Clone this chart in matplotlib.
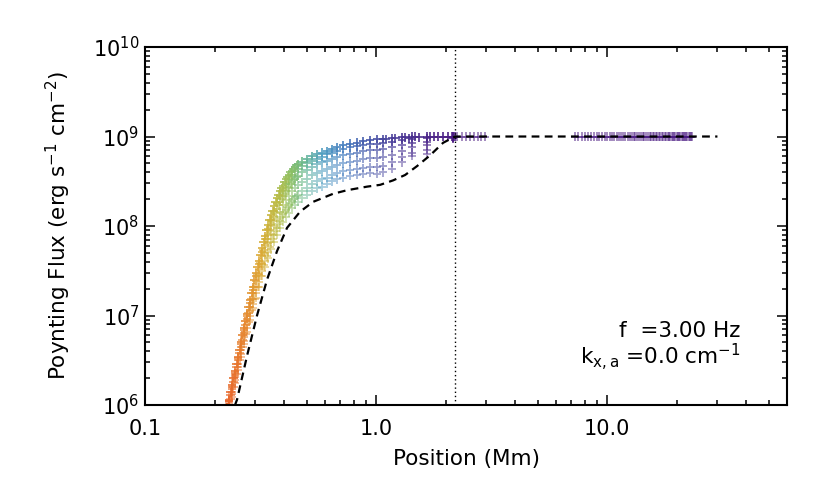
import numpy as np
import matplotlib
matplotlib.use('Agg')
import matplotlib.pyplot as plt
from matplotlib.colors import LinearSegmentedColormap, Normalize
from matplotlib.ticker import LogLocator, FuncFormatter, NullFormatter

# column positions (Mm) of the plus-marker stacks
position = [0.224, 0.231, 0.238, 0.245, 0.253, 0.260, 0.268, 0.276, 0.285, 0.293,
            0.302, 0.312, 0.321, 0.331, 0.341, 0.351, 0.362, 0.373, 0.384, 0.396,
            0.408, 0.420, 0.433, 0.446, 0.460, 0.478, 0.503, 0.528, 0.555, 0.584,
            0.614, 0.645, 0.678, 0.720, 0.772, 0.828, 0.878, 0.942, 1.010, 1.072,
            1.173, 1.296, 1.432, 1.663, 2.154]

# log10 of Poynting flux, one list per level (top -> bottom)
logF_0 = [5.90, 6.06, 6.22, 6.38, 6.54, 6.70, 6.86, 7.02, 7.17, 7.32,
          7.47, 7.61, 7.75, 7.89, 8.01, 8.12, 8.22, 8.31, 8.39, 8.45,
          8.52, 8.57, 8.62, 8.66, 8.69, 8.72, 8.75, 8.78, 8.80, 8.82,
          8.84, 8.86, 8.88, 8.90, 8.92, 8.93, 8.95, 8.96, 8.97, 8.97,
          8.98, 8.99, 9.00, 9.00, 9.00]
logF_1 = [5.90, 6.05, 6.20, 6.36, 6.52, 6.68, 6.84, 7.00, 7.14, 7.29,
          7.44, 7.58, 7.71, 7.85, 7.97, 8.07, 8.17, 8.26, 8.34, 8.40,
          8.47, 8.52, 8.57, 8.61, 8.64, 8.67, 8.70, 8.73, 8.75, 8.77,
          8.80, 8.82, 8.84, 8.86, 8.88, 8.89, 8.91, 8.92, 8.92, 8.93,
          8.94, 8.96, 8.97, 8.98, 9.00]
logF_2 = [5.89, 6.04, 6.18, 6.34, 6.50, 6.65, 6.81, 6.96, 7.10, 7.25,
          7.39, 7.52, 7.66, 7.79, 7.90, 8.01, 8.10, 8.19, 8.27, 8.33,
          8.39, 8.44, 8.49, 8.53, 8.56, 8.60, 8.63, 8.66, 8.69, 8.71,
          8.73, 8.75, 8.77, 8.79, 8.81, 8.82, 8.84, 8.85, 8.85, 8.86,
          8.88, 8.91, 8.93, 8.94, 8.99]
logF_3 = [5.88, 6.03, 6.15, 6.31, 6.46, 6.61, 6.76, 6.91, 7.05, 7.19,
          7.32, 7.45, 7.58, 7.70, 7.81, 7.91, 8.00, 8.08, 8.16, 8.23,
          8.29, 8.34, 8.39, 8.43, 8.46, 8.49, 8.53, 8.57, 8.59, 8.61,
          8.64, 8.66, 8.68, 8.70, 8.72, 8.73, 8.75, 8.76, 8.76, 8.77,
          8.79, 8.84, 8.88, 8.90, 8.99]
logF_4 = [5.88, 6.01, 6.12, 6.28, 6.42, 6.57, 6.72, 6.86, 6.99, 7.13,
          7.25, 7.38, 7.50, 7.61, 7.71, 7.82, 7.90, 7.98, 8.06, 8.13,
          8.18, 8.23, 8.28, 8.32, 8.35, 8.39, 8.43, 8.47, 8.50, 8.52,
          8.54, 8.57, 8.59, 8.61, 8.63, 8.64, 8.65, 8.66, 8.66, 8.67,
          8.71, 8.77, 8.82, 8.85, 8.98]
logF_5 = [5.87, 6.00, 6.09, 6.25, 6.39, 6.54, 6.68, 6.82, 6.95, 7.08,
          7.20, 7.32, 7.44, 7.54, 7.64, 7.74, 7.82, 7.90, 7.98, 8.05,
          8.10, 8.15, 8.20, 8.24, 8.27, 8.31, 8.35, 8.39, 8.42, 8.44,
          8.47, 8.50, 8.52, 8.54, 8.56, 8.57, 8.58, 8.59, 8.58, 8.60,
          8.64, 8.71, 8.78, 8.81, 8.98]

# extra columns on the steep part, where the points are denser
position_mid = [0.2275, 0.2345, 0.2415, 0.249, 0.2565, 0.264, 0.272, 0.2805,
                0.289, 0.2975, 0.307, 0.3165, 0.326, 0.336, 0.346, 0.3565,
                0.3675, 0.3785, 0.390, 0.402, 0.414, 0.4265, 0.4395, 0.453]
logF_mid_0 = [5.98, 6.14, 6.30, 6.46, 6.62, 6.78, 6.94, 7.10, 7.25, 7.40, 7.54, 7.68,
              7.82, 7.95, 8.07, 8.17, 8.27, 8.35, 8.42, 8.49, 8.55, 8.60, 8.64, 8.68]
logF_mid_2 = [5.97, 6.11, 6.26, 6.42, 6.58, 6.73, 6.89, 7.03, 7.18, 7.32, 7.46, 7.59,
              7.73, 7.85, 7.96, 8.06, 8.15, 8.23, 8.30, 8.36, 8.42, 8.47, 8.51, 8.55]
logF_mid_4 = [5.95, 6.07, 6.20, 6.35, 6.50, 6.65, 6.79, 6.93, 7.06, 7.19, 7.32, 7.44,
              7.56, 7.66, 7.77, 7.86, 7.94, 8.02, 8.10, 8.16, 8.21, 8.26, 8.30, 8.34]

# dense top ridge near the upper end of the slope
ridge_pos = [1.10, 1.21, 1.34, 1.39, 1.48, 1.54, 1.71, 1.78, 1.86, 1.95, 2.04, 2.12, 2.19]
ridge_logF = [8.97, 8.98, 8.99, 8.98, 9.00, 8.99, 9.00, 9.00, 9.00, 9.00, 9.00, 9.00, 9.00]

# points on the flat part beyond the dotted line
flat_pos = [2.25, 2.35, 2.45, 2.55, 2.65, 2.75, 2.85, 2.95,
            7.25, 7.5, 7.75, 8.0, 8.25, 8.5, 8.75, 9.0, 9.25, 9.5, 9.75,
            10.0, 10.25, 10.5, 10.75, 11.0, 11.25, 11.5, 11.75, 12.0, 12.25,
            12.5, 12.75, 13.0, 13.25, 13.5, 13.75, 14.0, 14.25, 14.5, 14.75,
            15.0, 15.25, 15.5, 15.75, 16.0, 16.25, 16.5, 16.75, 17.0, 17.25,
            17.5, 17.75, 18.0, 18.25, 18.5, 18.75, 19.0, 19.25, 19.5, 19.75,
            20.0, 20.25, 20.5, 20.75, 21.0, 21.25, 21.5, 21.75, 22.0, 22.25,
            22.5, 22.75, 23.0, 23.25]
flat_logF = 9.0

# dashed reference curve
dash_pos = [0.240, 0.2452, 0.2502, 0.2764, 0.3053, 0.3373, 0.3727, 0.4118, 0.4688,
            0.5338, 0.6515, 0.7490, 0.9142, 1.041, 1.185, 1.335, 1.505, 1.713,
            1.950, 2.198, 30.0]
dash_logF = [5.85, 6.00, 6.06, 6.55, 7.00, 7.40, 7.72, 7.98, 8.16,
             8.27, 8.36, 8.40, 8.44, 8.46, 8.51, 8.57, 8.67, 8.79,
             8.93, 9.00, 9.00]

vline_pos = 2.2

plt.rcParams['font.family'] = 'DejaVu Sans'
plt.rcParams['mathtext.fontset'] = 'dejavusans'

fig = plt.figure(figsize=(8.3, 4.98), dpi=100)
ax = fig.add_axes([0.1747, 0.1867, 0.7735, 0.7189])

cmap = LinearSegmentedColormap.from_list('rb', [
    (0.00, '#e8602a'), (0.08, '#e6862e'), (0.15, '#dcaa36'), (0.22, '#bcbc44'),
    (0.28, '#8fc063'), (0.34, '#62b68f'), (0.42, '#4d9dc0'), (0.52, '#4279bf'),
    (0.62, '#4456a8'), (0.75, '#4a3996'), (0.88, '#4b2689'), (1.00, '#4a1a82')])
norm = Normalize(np.log10(0.224), np.log10(2.2), clip=True)


def col(xs):
    return cmap(norm(np.log10(np.asarray(xs))))


def plus(xs, logf, alpha):
    ax.scatter(xs, 10 ** np.asarray(logf, dtype=float), marker='+', s=38,
               linewidths=1.3, c=col(xs), alpha=alpha, zorder=2)


for lev, a in [(logF_5, 0.5), (logF_4, 0.55), (logF_3, 0.6), (logF_2, 0.7),
               (logF_1, 0.8), (logF_0, 0.9)]:
    plus(position, lev, a)
plus(position_mid, logF_mid_4, 0.55)
plus(position_mid, logF_mid_2, 0.7)
plus(position_mid, logF_mid_0, 0.9)
plus(ridge_pos, ridge_logF, 0.9)
plus(flat_pos, np.full(len(flat_pos), flat_logF), 0.55)

ax.plot(dash_pos, 10 ** np.array(dash_logF), color='black', lw=1.6,
        linestyle=(0, (3.5, 2.4)), zorder=3)
ax.axvline(vline_pos, color='black', lw=1.0, linestyle=(0, (1, 2)), zorder=3)

ax.set_xscale('log')
ax.set_yscale('log')
ax.set_xlim(0.1, 60)
ax.set_ylim(1e6, 1e10)

ax.xaxis.set_major_locator(LogLocator(base=10, numticks=10))
ax.xaxis.set_minor_locator(LogLocator(base=10, subs=np.arange(2, 10), numticks=20))
ax.xaxis.set_major_formatter(FuncFormatter(lambda v, p: '%.1f' % v))
ax.xaxis.set_minor_formatter(NullFormatter())
ax.yaxis.set_minor_locator(LogLocator(base=10, subs=np.arange(2, 10), numticks=20))
ax.yaxis.set_minor_formatter(NullFormatter())

ax.tick_params(which='both', direction='in', top=True, right=True, width=1.1)
ax.tick_params(which='major', length=7, labelsize=15)
ax.tick_params(which='minor', length=3.5)
ax.tick_params(axis='x', which='major', pad=10)
ax.tick_params(axis='y', which='major', pad=4)
for s in ax.spines.values():
    s.set_linewidth(1.5)

ax.set_xlabel('Position (Mm)', fontsize=15.5)
ax.xaxis.set_label_coords(0.5, -0.122)
ax.set_ylabel(r'Poynting Flux (erg s$^{-1}$ cm$^{-2}$)', fontsize=15.5)
ax.yaxis.set_label_coords(-0.112, 0.5)

ax.text(0.928, 0.19, 'f  =3.00 Hz', transform=ax.transAxes, ha='right',
        va='baseline', fontsize=15.5)
ax.text(0.928, 0.112, r'k$_{\mathrm{x,a}}$ =0.0 cm$^{-1}$', transform=ax.transAxes,
        ha='right', va='baseline', fontsize=15.5)

fig.savefig('out.png', dpi=100)
